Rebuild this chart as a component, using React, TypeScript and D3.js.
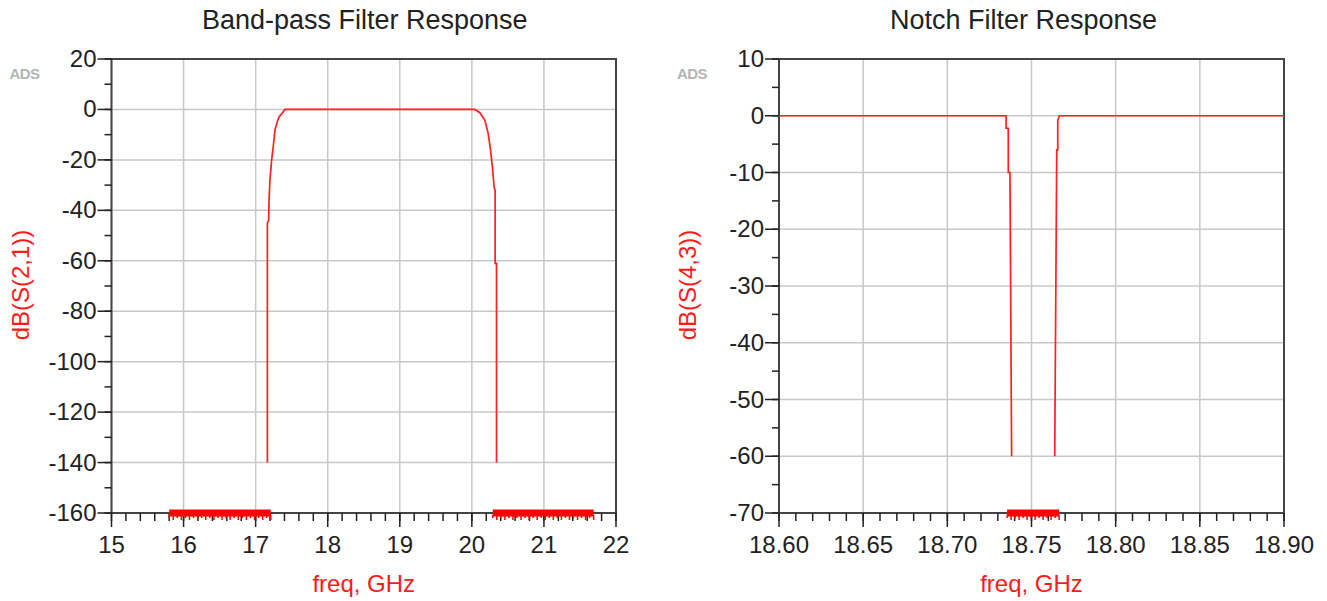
import React, { useEffect, useRef } from 'react';
import * as d3 from 'd3';

// Band-pass S21 trace (GHz, dB)
const bpFreq = [17.163, 17.163, 17.180, 17.186, 17.198, 17.222, 17.244, 17.268, 17.300, 17.327, 17.374, 17.406,
  20.042, 20.111, 20.180, 20.226, 20.259, 20.287, 20.309, 20.323, 20.323, 20.342, 20.342];
const bpDb = [-140, -45, -44, -36, -28, -20, -14.8, -8.2, -4.9, -2.9, -1.3, 0,
  0, -1.3, -4.2, -9.5, -16, -23.4, -31, -32, -61, -61, -140];
// clipped points drawn along the bottom axis
const bpClipped = [[15.80, 17.21], [20.29, 21.69]];

// Notch S43 trace, two visible pieces
const notchFreqA = [18.60, 18.7349, 18.7349, 18.7362, 18.7362, 18.7372, 18.7382];
const notchDbA = [0, 0, -2.2, -2.2, -10, -10, -60];
const notchFreqB = [18.7638, 18.7650, 18.7656, 18.7656, 18.7665, 18.90];
const notchDbB = [-60, -6, -6, -0.9, 0, 0];
const notchClipped = [[18.7355, 18.7664]];

const bpXTicks = [15, 16, 17, 18, 19, 20, 21, 22];
const bpYTicks = [20, 0, -20, -40, -60, -80, -100, -120, -140, -160];
const notchXTicks = [18.60, 18.65, 18.70, 18.75, 18.80, 18.85, 18.90];
const notchYTicks = [10, 0, -10, -20, -30, -40, -50, -60, -70];

const FONT = 'Liberation Sans, Arial, sans-serif';

const drawPanel = (root, cfg) => {
  const { left, right, top, bottom, xDomain, yDomain, xTicks, yTicks, xMinor, yMinor,
    xFmt, title, titleShift, yLabel, traces, clipped } = cfg;
  const x = d3.scaleLinear().domain(xDomain).range([left, right]);
  const y = d3.scaleLinear().domain(yDomain).range([bottom, top]);
  const g = root.append('g');

  // grid
  g.selectAll('.gx').data(xTicks).enter().append('line')
    .attr('x1', d => x(d)).attr('x2', d => x(d)).attr('y1', top).attr('y2', bottom)
    .attr('stroke', '#c8c8c8').attr('stroke-width', 1.5);
  g.selectAll('.gy').data(yTicks).enter().append('line')
    .attr('x1', left).attr('x2', right).attr('y1', d => y(d)).attr('y2', d => y(d))
    .attr('stroke', '#c8c8c8').attr('stroke-width', 1.5);

  // frame
  g.append('rect').attr('x', left).attr('y', top).attr('width', right - left).attr('height', bottom - top)
    .attr('fill', 'none').attr('stroke', '#444').attr('stroke-width', 2);

  // ticks
  g.selectAll('.mx').data(xMinor).enter().append('line')
    .attr('x1', d => x(d)).attr('x2', d => x(d)).attr('y1', bottom).attr('y2', bottom + 8)
    .attr('stroke', '#222').attr('stroke-width', 1.5);
  g.selectAll('.tx').data(xTicks).enter().append('line')
    .attr('x1', d => x(d)).attr('x2', d => x(d)).attr('y1', bottom).attr('y2', bottom + 14)
    .attr('stroke', '#222').attr('stroke-width', 1.5);
  g.selectAll('.my').data(yMinor).enter().append('line')
    .attr('x1', left - 7).attr('x2', left).attr('y1', d => y(d)).attr('y2', d => y(d))
    .attr('stroke', '#222').attr('stroke-width', 1.5);
  g.selectAll('.ty').data(yTicks).enter().append('line')
    .attr('x1', left - 14).attr('x2', left).attr('y1', d => y(d)).attr('y2', d => y(d))
    .attr('stroke', '#222').attr('stroke-width', 1.5);

  // tick labels
  g.selectAll('.lx').data(xTicks).enter().append('text')
    .attr('x', d => x(d)).attr('y', bottom + 40).attr('text-anchor', 'middle')
    .attr('font-family', FONT).attr('font-size', 24).attr('fill', '#222')
    .text(xFmt);
  g.selectAll('.ly').data(yTicks).enter().append('text')
    .attr('x', left - 15).attr('y', d => y(d) + 8).attr('text-anchor', 'end')
    .attr('font-family', FONT).attr('font-size', 24).attr('fill', '#222')
    .text(d => d);

  // title and axis labels
  g.append('text').attr('x', (left + right) / 2 + titleShift).attr('y', 29).attr('text-anchor', 'middle')
    .attr('font-family', FONT).attr('font-size', 27).attr('fill', '#222').text(title);
  g.append('text').attr('x', (left + right) / 2).attr('y', 592).attr('text-anchor', 'middle')
    .attr('font-family', FONT).attr('font-size', 24).attr('fill', '#ff1a1a').text('freq, GHz');
  g.append('text').attr('transform', `translate(${left - 83},285) rotate(-90)`).attr('text-anchor', 'middle')
    .attr('font-family', FONT).attr('font-size', 24).attr('fill', '#ff1a1a').text(yLabel);
  g.append('text').attr('x', left - 102).attr('y', 79)
    .attr('font-family', FONT).attr('font-size', 15).attr('font-weight', 'bold')
    .attr('fill', '#b4b4b4').attr('letter-spacing', -0.6).text('ADS');

  // traces
  const line = d3.line().x(d => x(d[0])).y(d => y(d[1]));
  traces.forEach(([fs, vs]) => {
    g.append('path').datum(d3.zip(fs, vs)).attr('d', line)
      .attr('fill', 'none').attr('stroke', '#ff2020').attr('stroke-width', 1.7);
  });

  // clipped points along bottom
  clipped.forEach(([a, b]) => {
    g.append('rect').attr('x', x(a)).attr('y', bottom - 3.5).attr('width', x(b) - x(a)).attr('height', 7)
      .attr('fill', '#ff0000');
    const n = Math.round((x(b) - x(a)) / 4);
    const marks = d3.range(n + 1).map(i => x(a) + (i * (x(b) - x(a))) / n);
    g.selectAll(null).data(marks).enter().append('line')
      .attr('x1', d => d).attr('x2', d => d).attr('y1', bottom + 2).attr('y2', (d, i) => bottom + (i % 2 ? 7 : 5))
      .attr('stroke', '#ff0000').attr('stroke-width', 1.5);
  });
};

const App = () => {
  const svgRef = useRef();

  useEffect(() => {
    const svg = d3.select(svgRef.current);
    svg.selectAll('*').remove();

    drawPanel(svg, {
      left: 111.5, right: 616, top: 59, bottom: 513,
      xDomain: [15, 22], yDomain: [-160, 20],
      xTicks: bpXTicks, yTicks: bpYTicks,
      xMinor: d3.range(15, 22.001, 0.2), yMinor: d3.range(-160, 20.001, 10),
      xFmt: d => d, title: 'Band-pass Filter Response', titleShift: 1, yLabel: 'dB(S(2,1))',
      traces: [[bpFreq, bpDb]], clipped: bpClipped,
    });

    drawPanel(svg, {
      left: 779, right: 1284, top: 59, bottom: 513,
      xDomain: [18.6, 18.9], yDomain: [-70, 10],
      xTicks: notchXTicks, yTicks: notchYTicks,
      xMinor: d3.range(18.6, 18.9001, 0.01), yMinor: d3.range(-70, 10.001, 5),
      xFmt: d => d.toFixed(2), title: 'Notch Filter Response', titleShift: -8, yLabel: 'dB(S(4,3))',
      traces: [[notchFreqA, notchDbA], [notchFreqB, notchDbB]], clipped: notchClipped,
    });
  }, []);

  return (
    <svg ref={svgRef} width={1327} height={601}
      style={{ position: 'absolute', left: 0, top: 0, background: '#fff' }} />
  );
};

export default App;
